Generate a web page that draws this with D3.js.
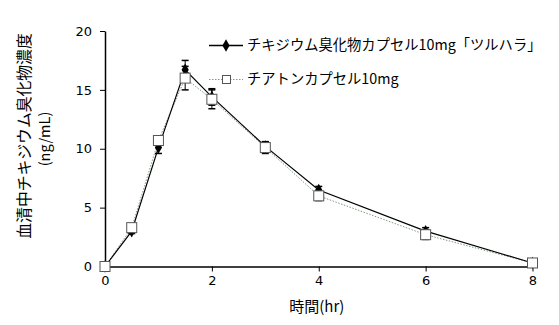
<!DOCTYPE html>
<html>
<head>
<meta charset="utf-8">
<script src="https://cdn.jsdelivr.net/npm/d3@7"></script>
<style>
  body { margin: 0; background: #fff; }
  svg { font-family: "Noto Sans CJK JP", "DejaVu Sans", sans-serif; }
</style>
</head>
<body>
<div id="chart"></div>
<script>
// time points (hr)
var TIMES = [0, 0.5, 1, 1.5, 2, 3, 4, 6, 8];
// チキジウム臭化物カプセル10mg「ツルハラ」 mean / SD
var TSURUHARA = [0, 3.0, 10.1, 16.7, 14.4, 10.2, 6.5, 3.0, 0.3];
var TSURUHARA_SD = [0, 0.2, 0.5, 0.8, 0.7, 0.4, 0.3, 0.3, 0.1];
// チアトンカプセル10mg mean / SD
var CHIATON = [0, 3.3, 10.7, 16.0, 14.2, 10.1, 6.0, 2.7, 0.3];
var CHIATON_SD = [0, 0.2, 0.3, 1.0, 0.8, 0.5, 0.4, 0.4, 0.1];

var X_TICKS = [0, 2, 4, 6, 8];
var Y_TICKS = [0, 5, 10, 15, 20];
var SERIES_NAMES = ["チキジウム臭化物カプセル10mg「ツルハラ」", "チアトンカプセル10mg"];

var MARGIN = {left: 105, right: 26, top: 31, bottom: 58};
var width = 559, height = 325;
var plotW = width - MARGIN.left - MARGIN.right;
var plotH = height - MARGIN.top - MARGIN.bottom;

var svg = d3.select("#chart").append("svg")
    .attr("width", width)
    .attr("height", height);

var g = svg.append("g")
    .attr("transform", "translate(" + MARGIN.left + "," + MARGIN.top + ")");

var xScale = d3.scaleLinear().domain([0, 8]).range([0, plotW - 0.5]);
var yScale = d3.scaleLinear().domain([0, 20]).range([plotH - 0.5, 0]);

// axes
var xAxis = g.append("g")
    .attr("transform", "translate(0," + (plotH - 0.5) + ")")
    .call(d3.axisBottom(xScale).tickValues(X_TICKS).tickSize(5).tickSizeOuter(0).tickPadding(4));
var yAxis = g.append("g")
    .call(d3.axisLeft(yScale).tickValues(Y_TICKS).tickSize(5).tickSizeOuter(0).tickPadding(8));
[xAxis, yAxis].forEach((ax) => {
    ax.select(".domain").attr("stroke", "#000").attr("stroke-width", 1.5);
    ax.selectAll(".tick line").attr("stroke", "#000");
    ax.selectAll(".tick text")
        .attr("font-size", 13)
        .attr("font-family", "'DejaVu Sans', sans-serif")
        .attr("fill", "#000");
});

// axis titles
svg.append("text")
    .attr("x", MARGIN.left + xScale(4) - 2)
    .attr("y", 312)
    .attr("text-anchor", "middle")
    .attr("font-size", 15)
    .text("時間(hr)");

svg.append("text")
    .attr("transform", "translate(30,136) rotate(-90)")
    .attr("text-anchor", "middle")
    .attr("font-size", 15.8)
    .text("血清中チキジウム臭化物濃度");
svg.append("text")
    .attr("transform", "translate(50,139) rotate(-90)")
    .attr("text-anchor", "middle")
    .attr("font-size", 14.5)
    .text("(ng/mL)");

var seriesList = [
    {vals: CHIATON, sd: CHIATON_SD, color: "#7f9a7f", dash: "1.5,1.5", marker: "square"},
    {vals: TSURUHARA, sd: TSURUHARA_SD, color: "#000", dash: null, marker: "diamond"}
];

var line = d3.line()
    .x((d) => xScale(d.t))
    .y((d) => yScale(d.v));

// lines
seriesList.forEach((s) => {
    var pts = TIMES.map((t, i) => ({t: t, v: s.vals[i]}));
    g.append("path")
        .datum(pts)
        .attr("fill", "none")
        .attr("stroke", s.color)
        .attr("stroke-width", s.dash ? 1 : 1.2)
        .attr("stroke-dasharray", s.dash)
        .attr("d", line);
});

// error bars
seriesList.forEach((s) => {
    TIMES.forEach((t, i) => {
        if (s.sd[i] <= 0) return;
        var x = xScale(t);
        var y1 = yScale(s.vals[i] + s.sd[i]);
        var y2 = yScale(s.vals[i] - s.sd[i]);
        g.append("line").attr("x1", x).attr("x2", x).attr("y1", y1).attr("y2", y2)
            .attr("stroke", "#000").attr("stroke-width", 1);
        [y1, y2].forEach((y) => {
            g.append("line").attr("x1", x - 3.5).attr("x2", x + 3.5).attr("y1", y).attr("y2", y)
                .attr("stroke", "#000").attr("stroke-width", 1.5);
        });
    });
});

var diamond = d3.symbol().type(d3.symbolDiamond).size(45);

// markers: diamond first, square on top
TIMES.forEach((t, i) => {
    g.append("path")
        .attr("transform", "translate(" + xScale(t) + "," + yScale(TSURUHARA[i]) + ")")
        .attr("d", diamond)
        .attr("fill", "#000");
});
TIMES.forEach((t, i) => {
    g.append("rect")
        .attr("x", xScale(t) - 5)
        .attr("y", yScale(CHIATON[i]) - 5)
        .attr("width", 10)
        .attr("height", 10)
        .attr("fill", "#fff")
        .attr("stroke", "#555")
        .attr("stroke-width", 1);
});

// legend
var legend = svg.append("g");
var rows = [{y: 45, color: "#000", dash: null, marker: "diamond"},
            {y: 79, color: "#7f9a7f", dash: "1.5,1.5", marker: "square"}];
rows.forEach((r, i) => {
    legend.append("line")
        .attr("x1", 209).attr("x2", 243)
        .attr("y1", r.y + 0.5).attr("y2", r.y + 0.5)
        .attr("stroke", r.color)
        .attr("stroke-width", r.dash ? 1 : 1.5)
        .attr("stroke-dasharray", r.dash);
    if (r.marker === "diamond") {
        legend.append("path")
            .attr("transform", "translate(226," + (r.y + 0.5) + ")")
            .attr("d", diamond)
            .attr("fill", "#000");
    } else {
        legend.append("rect")
            .attr("x", 222.5).attr("y", r.y - 3.5)
            .attr("width", 8).attr("height", 8)
            .attr("fill", "#fff").attr("stroke", "#555");
    }
    legend.append("text")
        .attr("x", 247)
        .attr("y", r.y + 5)
        .attr("font-size", 14.3)
        .text(SERIES_NAMES[i]);
});
</script>
</body>
</html>
